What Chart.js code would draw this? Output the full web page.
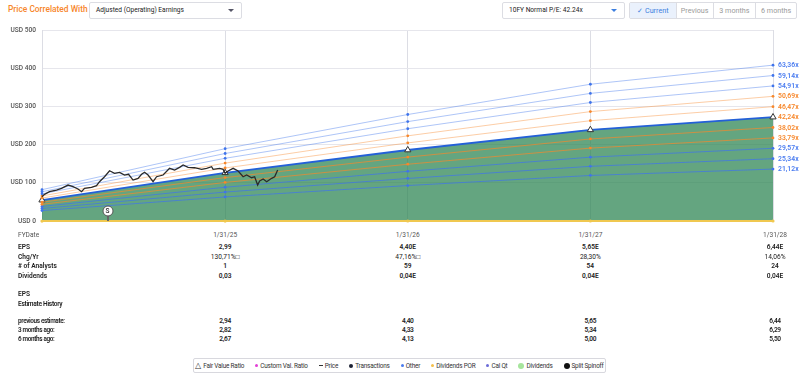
<!DOCTYPE html>
<html><head><meta charset="utf-8">
<script src="https://cdn.jsdelivr.net/npm/chart.js@4.4.1/dist/chart.umd.min.js"></script>
<style>
body{margin:0;width:800px;height:377px;overflow:hidden;background:#fff;font-family:Roboto,"Open Sans",sans-serif;position:relative;}
.abs{position:absolute;white-space:nowrap;}
#title{left:8px;top:4px;font-size:8.4px;color:#f7862a;font-weight:500;}
.dd{position:absolute;top:2px;height:17px;border:1px solid #dcdde3;border-radius:2px;box-sizing:border-box;font-size:6.6px;color:#222;line-height:15px;padding-left:6px;white-space:nowrap;}
.caret{position:absolute;right:7px;top:6px;width:0;height:0;border-left:3px solid transparent;border-right:3px solid transparent;border-top:3px solid #556;}
.btns{position:absolute;top:2px;left:629px;width:168px;height:17px;display:flex;border:1px solid #dcdde3;border-radius:2px;box-sizing:border-box;font-size:7.2px;}
.btn{line-height:15px;text-align:center;color:#9a9a9a;border-left:1px solid #dcdde3;box-sizing:border-box;white-space:nowrap;}
.btn.on{background:#eaf1fc;color:#3c7fe0;border-left:none;}
#canvasWrap{position:absolute;left:0;top:0;width:800px;height:231px;}
.rl{position:absolute;font-size:6.8px;font-weight:600;transform:translateY(-50%);}
.tl{position:absolute;font-size:6.6px;color:#222;transform:translateY(-50%);white-space:nowrap;}
.tv{position:absolute;font-size:6.6px;color:#222;transform:translate(-50%,-50%);white-space:nowrap;}
.cond{letter-spacing:-0.35px;font-size:6.4px;}
#legend{position:absolute;left:193px;top:358px;width:413px;height:15px;border:1px solid #d8d8de;border-radius:2px;box-sizing:border-box;display:flex;align-items:center;justify-content:center;gap:11px;font-size:6.4px;color:#333;letter-spacing:-0.2px;}
.li{display:flex;align-items:center;gap:2px;white-space:nowrap;}
.dot{display:inline-block;width:3px;height:3px;border-radius:50%;}
#split{position:absolute;width:11px;height:11px;border-radius:50%;background:#fff;border:1px solid #555;box-sizing:border-box;font-size:6.5px;line-height:9px;text-align:center;color:#333;font-weight:600;transform:translate(-50%,-50%);}
#splitStem{position:absolute;width:2px;background:#666;transform:translateX(-50%);}
</style></head>
<body>
<div id="title" class="abs">Price Correlated With</div>
<div class="dd" style="left:89px;width:153px;">Adjusted (Operating) Earnings<span class="caret"></span></div>
<div class="dd" style="left:502px;width:123px;">10FY Normal P/E: 42.24x<span class="caret" style="border-top-color:#3c7fe0"></span></div>
<div class="btns">
  <div class="btn on" style="width:46px;">&#10003; Current</div>
  <div class="btn" style="width:37px;">Previous</div>
  <div class="btn" style="width:43px;">3 months</div>
  <div class="btn" style="width:41px;">6 months</div>
</div>
<div id="canvasWrap"><canvas id="c" width="800" height="231"></canvas></div>
<div id="overlay"></div>
<div id="legend">
  <span class="li"><span style="font-size:8px;line-height:6px">&#9651;</span>Fair Value Ratio</span>
  <span class="li"><span class="dot" style="background:#e23fd6"></span>Custom Val. Ratio</span>
  <span class="li"><span style="display:inline-block;width:4px;height:1px;background:#333"></span>Price</span>
  <span class="li"><span class="dot" style="background:#1d2233;width:4px;height:4px"></span>Transactions</span>
  <span class="li"><span class="dot" style="background:#4a7cf0"></span>Other</span>
  <span class="li"><span class="dot" style="background:#f5c04a"></span>Dividends POR</span>
  <span class="li"><span class="dot" style="background:#6b6bd8"></span>Cal Qt</span>
  <span class="li"><span class="dot" style="background:#a6e59c;width:6px;height:6px"></span>Dividends</span>
  <span class="li"><span class="dot" style="background:#111;width:6px;height:6px"></span>Split Spinoff</span>
</div>
<script>
// ---- data ----
const fyDates = ['2024-01-31','2025-01-31','2026-01-31','2027-01-31','2028-01-31'];
const peLabels = ['63,36x','59,14x','54,91x','50,69x','46,47x','42,24x','38,02x','33,79x','29,57x','25,34x','21,12x'];
const pe6336 = [82.1, 189.4, 278.8, 358.0, 408.0];
const pe5914 = [76.6, 176.8, 260.2, 334.1, 380.9];
const pe5491 = [71.2, 164.2, 241.6, 310.2, 353.6];
const pe5069 = [65.7, 151.6, 223.0, 286.4, 326.4];
const pe4647 = [60.2, 138.9, 204.5, 262.6, 299.3];
const pe4224 = [54.7, 126.3, 185.9, 238.7, 272.0];
const pe3802 = [49.3, 113.7, 167.3, 214.8, 244.8];
const pe3379 = [43.8, 101.0, 148.7, 190.9, 217.6];
const pe2957 = [38.3, 88.4, 130.1, 167.1, 190.4];
const pe2534 = [32.8, 75.8, 111.5, 143.2, 163.2];
const pe2112 = [27.4, 63.1, 92.9, 119.3, 136.0];
const dividendValues = [0.03, 0.03, 0.04, 0.04, 0.04];
const priceDates = ['2024-01-31','2024-02-05','2024-02-15','2024-02-29','2024-03-10','2024-03-23','2024-04-02','2024-04-12','2024-04-19','2024-04-25','2024-05-09','2024-05-19','2024-05-25','2024-06-04','2024-06-14','2024-06-24','2024-07-04','2024-07-14','2024-07-22','2024-07-31','2024-08-10','2024-08-17','2024-08-23','2024-08-30','2024-09-09','2024-09-16','2024-09-29','2024-10-12','2024-10-22','2024-11-01','2024-11-08','2024-11-18','2024-12-01','2024-12-15','2024-12-25','2025-01-04','2025-01-07','2025-01-20','2025-01-27','2025-01-31','2025-02-06','2025-02-16','2025-02-26','2025-03-08','2025-03-15','2025-03-25','2025-03-31','2025-04-06','2025-04-10','2025-04-17','2025-04-24','2025-05-04','2025-05-10','2025-05-16'];
const priceValues = [63.6,69.9,76.7,81.2,85.6,94.2,89.8,83.8,76.7,85.6,88.2,92.4,102.9,116,131.7,124.9,127.5,120.4,122.3,107.3,111.8,122.3,127.5,120.4,102.9,116,120.4,138,133.5,140.6,146.6,140.6,139.5,135.3,138,142.1,135.3,138,135.3,124.9,130.9,138,130.9,116,120.4,113.4,116,94.2,104.7,110,102.9,111.8,116,133.5];
const splitDate = '2024-06-10';
const yTicks = [0,100,200,300,400,500];
// table
const tableDates = ['1/31/25','1/31/26','1/31/27','1/31/28'];
const epsRow = ['2,99','4,40E','5,65E','6,44E'];
const chgRow = ['130,71%\u25A1','47,16%\u25A1','28,30%','14,06%'];
const analystsRow = ['1','59','54','24'];
const dividendsRow = ['0,03','0,04E','0,04E','0,04E'];
const prevEstRow = ['2,94','4,40','5,65','6,44'];
const est3mRow = ['2,82','4,33','5,34','6,29'];
const est6mRow = ['2,67','4,13','5,00','5,50'];

// ---- styles ----
const BLUE = '#3f74ec', ORANGE = '#f7872b';
const peSeries = [pe6336,pe5914,pe5491,pe5069,pe4647,pe4224,pe3802,pe3379,pe2957,pe2534,pe2112];
const peColor = [BLUE,BLUE,BLUE,ORANGE,ORANGE,null,ORANGE,ORANGE,BLUE,BLUE,BLUE];
const labelColor = ['#4a7cf0','#4a7cf0','#4a7cf0','#f7872b','#f7872b','#f7872b','#f7872b','#f7872b','#4a7cf0','#4a7cf0','#4a7cf0'];
function rgba(hex,a){const n=parseInt(hex.slice(1),16);return `rgba(${n>>16},${(n>>8)&255},${n&255},${a})`;}
const t = s => Date.parse(s + 'T00:00:00Z');
const xy = (dates, vals) => dates.map((d,i)=>({x:t(d), y:vals[i]}));

const datasets = [];
datasets.push({label:'Price', data: xy(priceDates, priceValues), borderColor:'#2a2a2a', borderWidth:1.3, pointRadius:0, tension:0, order:0, clip:false});
datasets.push({label:'Dividends', data: xy(fyDates, dividendValues), borderColor:'#f0c850', borderWidth:2, pointRadius:1.6, pointBackgroundColor:'#f0c850', pointBorderWidth:0, order:1, clip:false});
peSeries.forEach((s,i)=>{
  if (i === 5) {
    datasets.push({label:peLabels[i], data: xy(fyDates, s), borderColor:'#2360d8', borderWidth:1.8,
      fill:'origin', backgroundColor:'rgba(46,134,84,0.74)',
      pointStyle:'triangle', pointRadius:3.6, pointBackgroundColor:'#ffffff', pointBorderColor:'#333', pointBorderWidth:1,
      order:20, clip:false});
  } else {
    const above = i < 5;
    datasets.push({label:peLabels[i], data: xy(fyDates, s), borderColor: rgba(peColor[i], above ? 0.42 : 0.7), borderWidth:1,
      pointRadius:1.4, pointBackgroundColor: peColor[i], pointBorderWidth:0, fill:false,
      order: above ? 5 : 3, clip:false});
  }
});

const chart = new Chart(document.getElementById('c'), {
  type:'line',
  data:{datasets},
  options:{
    responsive:false, animation:false, devicePixelRatio:1,
    layout:{padding:{top:30,right:27,bottom:7,left:0}},
    plugins:{legend:{display:false}, tooltip:{enabled:false}},
    scales:{
      x:{type:'linear', min:t(fyDates[0]), max:t(fyDates[4]),
        afterBuildTicks:(s)=>{ s.ticks = fyDates.map(d=>({value:t(d)})); },
        ticks:{display:false}, grid:{color:'#dcdde4', drawTicks:false}, border:{display:false},
        afterFit:(s)=>{ s.height = 0; }},
      y:{min:0, max:500, afterBuildTicks:(s)=>{ s.ticks = yTicks.map(v=>({value:v})); },
        ticks:{callback:v=>'USD ' + v, color:'#555', font:{family:'Roboto', size:6.6, weight:'500'}, padding:6},
        grid:{color:'#e6e6ec', drawTicks:false}, border:{display:true, color:'#dcdde4'},
        afterFit:(s)=>{ s.width = 42; }}
    }
  }
});

// ---- overlay text positioned through the chart's own scales ----
const xs = chart.scales.x, ys = chart.scales.y;
const ov = document.getElementById('overlay');
function add(cls, txt, left, top, style){
  const d = document.createElement('div'); d.className = cls; d.textContent = txt;
  d.style.left = left + 'px'; d.style.top = top + 'px'; if (style) d.style.cssText += style; ov.appendChild(d); return d;
}
peSeries.forEach((s,i)=>{ add('rl', peLabels[i], xs.right + 5, ys.getPixelForValue(s[s.length-1]), 'color:' + labelColor[i]); });
const sx = xs.getPixelForValue(t(splitDate));
const stem = document.createElement('div'); stem.id='splitStem'; stem.style.left = sx + 'px'; stem.style.top = (ys.bottom - 6) + 'px'; stem.style.height = '6px'; ov.appendChild(stem);
const sp = add('', 'S', sx, ys.bottom - 10); sp.id = 'split';
const rowsLeft = [['FYDate',235,'color:#555'],['EPS',247,'font-weight:600'],['Chg/Yr',256.5,'font-weight:600'],['# of Analysts',266,'font-weight:600'],['Dividends',275.5,'font-weight:600'],['EPS',294,'font-weight:600'],['Estimate History',304,'font-weight:600;letter-spacing:-0.3px']];
rowsLeft.forEach(r=>add('tl', r[0], 18, r[1], r[2]));
[['previous estimate:',321],['3 months ago:',330],['6 months ago:',339]].forEach(r=>add('tl cond', r[0], 18, r[1], 'font-weight:600'));
const colRows = [[tableDates,235,'color:#555'],[epsRow,247,'font-weight:600'],[chgRow,256.5,''],[analystsRow,266,'font-weight:600'],[dividendsRow,275.5,'font-weight:600'],
  [prevEstRow,321,'font-weight:600;letter-spacing:-0.3px'],[est3mRow,330,'font-weight:600;letter-spacing:-0.3px'],[est6mRow,339,'font-weight:600;letter-spacing:-0.3px']];
colRows.forEach(r=>{
  r[0].forEach((txt,j)=>{
    let px = xs.getPixelForValue(t(fyDates[j+1]));
    if (j === 3) px += 2;
    add('tv', txt, px, r[1], r[2]);
  });
});
</script>
</body></html>
